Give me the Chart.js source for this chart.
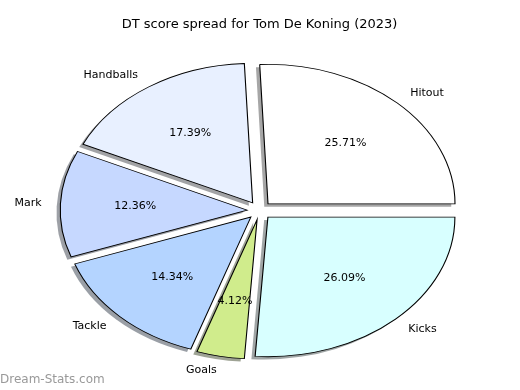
<!DOCTYPE html>
<html>
<head>
<meta charset="utf-8">
<script src="https://cdn.jsdelivr.net/npm/chart.js@4/dist/chart.umd.min.js"></script>
<style>
  html, body { margin: 0; padding: 0; background: #fff; }
  #wrap { width: 520px; height: 390px; position: relative; }
</style>
</head>
<body>
<div id="wrap"><canvas id="pie" width="520" height="390"></canvas></div>
<script>
const categories = ['Hitout', 'Handballs', 'Mark', 'Tackle', 'Goals', 'Kicks'];
const shares = [25.71, 17.39, 12.36, 14.34, 4.12, 26.09];
const sliceColours = ['#ffffff', '#e8f0ff', '#c6d8ff', '#b4d4ff', '#d0ec8c', '#d8ffff'];
const chartTitle = 'DT score spread for Tom De Koning (2023)';
const watermark = 'Dream-Stats.com';

const FONT = "'DejaVu Sans', sans-serif";
const pieRadius = 187;     // horizontal radius, px
const squash = 0.746;      // axes not square -> the pie is an oval
const explodePx = 12.3;
const shadowShift = 0.02;  // fraction of radius, same as mpl Shadow

// mpl goes anticlockwise from 3 o'clock, chart.js clockwise -> reverse
const order = categories.map((_, i) => i).reverse();

function shadowOf(hex) {
  const n = parseInt(hex.slice(1), 16);
  const r = Math.round(((n >> 16) & 255) * 0.3);
  const g = Math.round(((n >> 8) & 255) * 0.3);
  const b = Math.round((n & 255) * 0.3);
  return `rgba(${r},${g},${b},0.5)`;
}

const ArcBase = Chart.ArcElement || Chart.elements.ArcElement;
const PieBase = Chart.PieController || Chart.controllers.pie;

// every wedge pushed out along its middle angle, no radius change
class ExplodedArc extends ArcBase {
  draw(ctx) {
    const mid = (this.startAngle + this.endAngle) / 2;
    ctx.save();
    ctx.translate(Math.cos(mid) * explodePx, Math.sin(mid) * explodePx);
    super.draw(ctx);
    ctx.restore();
  }
}
ExplodedArc.id = 'explodedArc';

class ExplodedPie extends PieBase {}
ExplodedPie.id = 'explodedPie';
ExplodedPie.defaults = { dataElementType: 'explodedArc' };
ExplodedPie.dataElementType = ExplodedArc;

Chart.register(ExplodedArc, ExplodedPie);

const ovalPlugin = {
  id: 'oval',
  beforeDatasetsDraw(chart) {
    const ctx = chart.ctx;
    const arcs = chart.getDatasetMeta(0).data;
    const cx = arcs[0].x, cy = arcs[0].y;
    ctx.save();
    ctx.translate(cx, cy);
    ctx.scale(1, squash);
    ctx.translate(-cx, -cy);

    // shadows first, under all wedges
    arcs.forEach((arc, i) => {
      const mid = (arc.startAngle + arc.endAngle) / 2;
      const r = arc.outerRadius;
      const x = arc.x + Math.cos(mid) * explodePx - shadowShift * r;
      const y = arc.y + Math.sin(mid) * explodePx + shadowShift * r;
      ctx.beginPath();
      ctx.moveTo(x, y);
      ctx.arc(x, y, r, arc.startAngle, arc.endAngle);
      ctx.closePath();
      ctx.fillStyle = shadowOf(sliceColours[order[i]]);
      ctx.fill();
    });
  },
  afterDatasetsDraw(chart) {
    const ctx = chart.ctx;
    ctx.restore();

    const arcs = chart.getDatasetMeta(0).data;
    ctx.save();
    ctx.font = '11px ' + FONT;
    ctx.fillStyle = '#000';
    ctx.textBaseline = 'middle';
    arcs.forEach((arc, i) => {
      const k = order[i];
      const mid = (arc.startAngle + arc.endAngle) / 2;
      const ux = Math.cos(mid), uy = Math.sin(mid);
      const r = arc.outerRadius;

      const lr = r * 1.1 + explodePx;
      ctx.textAlign = ux > 0 ? 'left' : 'right';
      ctx.fillText(categories[k], arc.x + ux * lr, arc.y + uy * lr * squash);

      const pr = r * 0.6 + explodePx;
      ctx.textAlign = 'center';
      ctx.fillText(shares[k].toFixed(2) + '%', arc.x + ux * pr, arc.y + uy * pr * squash);
    });
    ctx.restore();
  },
  afterDraw(chart) {
    const ctx = chart.ctx;
    ctx.save();
    ctx.font = '12px ' + FONT;
    ctx.fillStyle = '#999999';
    ctx.textAlign = 'left';
    ctx.textBaseline = 'middle';
    ctx.fillText(watermark, 0, 380);
    ctx.restore();
  }
};

new Chart(document.getElementById('pie'), {
  type: 'explodedPie',
  data: {
    labels: order.map(i => categories[i]),
    datasets: [{
      data: order.map(i => shares[i]),
      backgroundColor: order.map(i => sliceColours[i]),
      borderColor: '#000',
      borderWidth: 1.1,
      borderJoinStyle: 'miter',
      clip: false
    }]
  },
  options: {
    responsive: false,
    devicePixelRatio: 1,
    animation: false,
    events: [],
    rotation: 90,
    radius: pieRadius,
    layout: { padding: { left: 0, right: 1, top: 0, bottom: 1.6 } },
    plugins: {
      legend: { display: false },
      tooltip: { enabled: false },
      title: {
        display: true,
        text: chartTitle,
        color: '#000',
        font: { family: FONT, size: 13, weight: 'normal' },
        padding: { top: 17, bottom: 0 }
      }
    }
  },
  plugins: [ovalPlugin]
});
</script>
</body>
</html>
